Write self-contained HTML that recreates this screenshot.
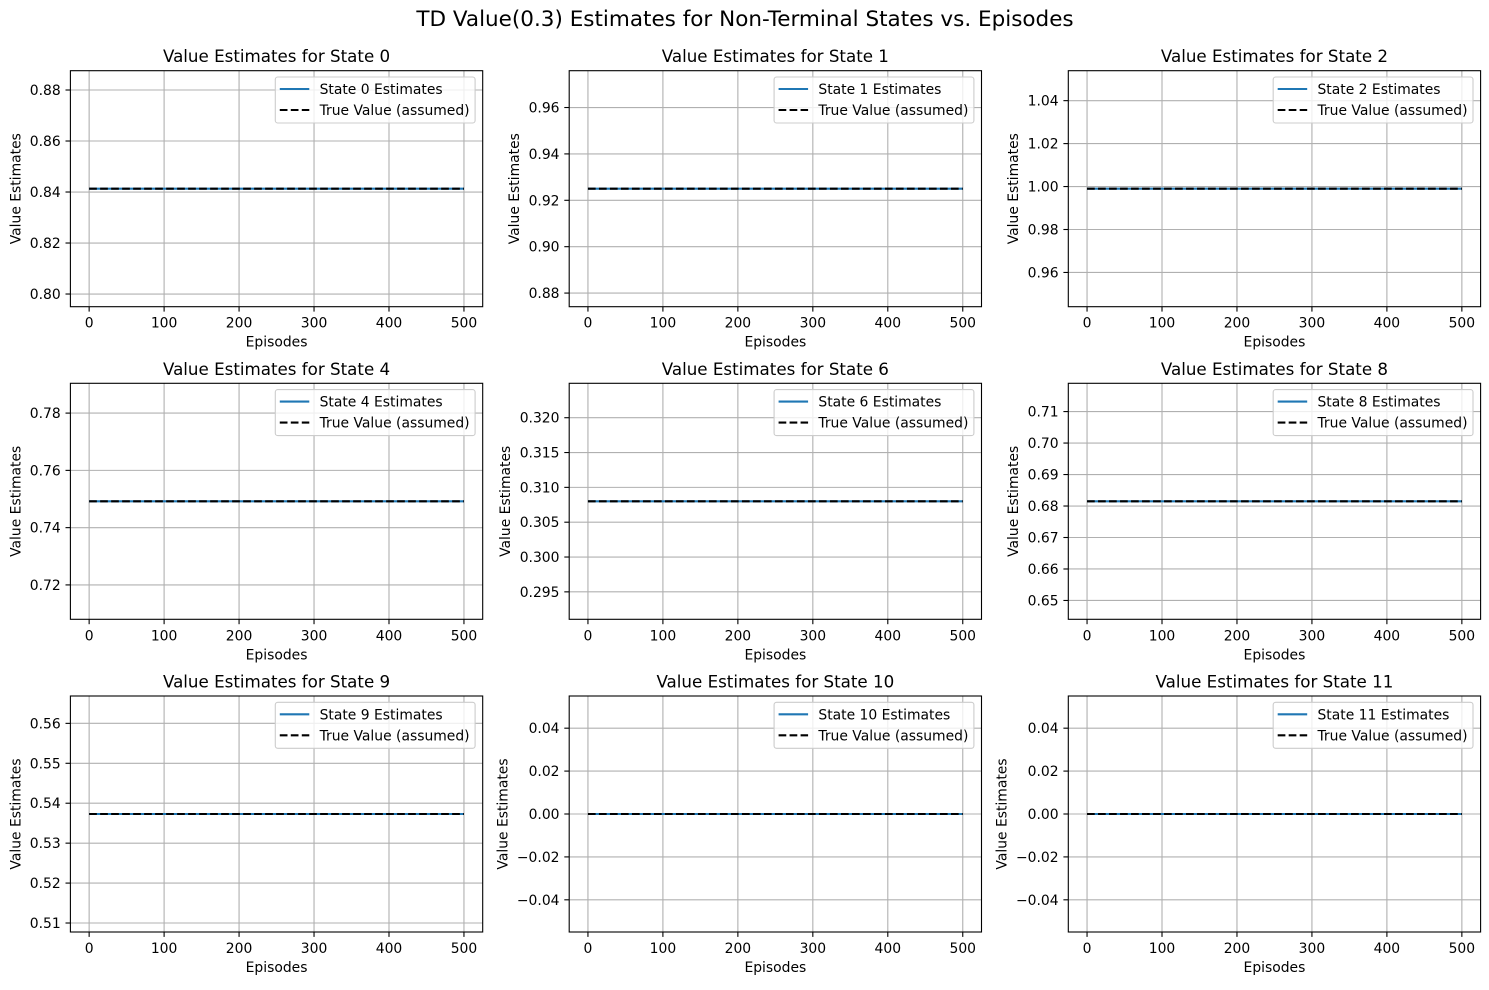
<!DOCTYPE html>
<html><head><meta charset="utf-8"><style>
body{margin:0;background:#fff;}
svg text{font-family:"DejaVu Sans","Liberation Sans",sans-serif;fill:#000;}
</style></head><body>
<svg id="fig" width="1489" height="985" xmlns="http://www.w3.org/2000/svg">
<rect width="1489" height="985" fill="#fff"/>
<text x="745" y="26" font-size="21.5" text-anchor="middle">TD Value(0.3) Estimates for Non-Terminal States vs. Episodes</text>
</svg>
<script>
const states = [0, 1, 2, 4, 6, 8, 9, 10, 11];
const estimateValues = [0.8413, 0.925, 0.999, 0.7492, 0.308, 0.6815, 0.5373, 0.0, 0.0];
const trueValues = [0.8413, 0.925, 0.999, 0.7492, 0.308, 0.6815, 0.5373, 0.0, 0.0];
const episodeStart = 0;
const episodeEnd = 500;
const xTicks = [0, 100, 200, 300, 400, 500];
const yTicks = [
  [0.80, 0.82, 0.84, 0.86, 0.88],
  [0.88, 0.90, 0.92, 0.94, 0.96],
  [0.96, 0.98, 1.00, 1.02, 1.04],
  [0.72, 0.74, 0.76, 0.78],
  [0.295, 0.300, 0.305, 0.310, 0.315, 0.320],
  [0.65, 0.66, 0.67, 0.68, 0.69, 0.70, 0.71],
  [0.51, 0.52, 0.53, 0.54, 0.55, 0.56],
  [-0.04, -0.02, 0.00, 0.02, 0.04],
  [-0.04, -0.02, 0.00, 0.02, 0.04]
];
const yDecimals = [2, 2, 2, 2, 3, 2, 2, 2, 2];

const NS = "http://www.w3.org/2000/svg";
const svg = document.getElementById('fig');
function mk(tag, attrs, parent) {
  const e = document.createElementNS(NS, tag);
  for (const k in attrs) e.setAttribute(k, attrs[k]);
  (parent || svg).appendChild(e);
  return e;
}
const AW = 412.3, AH = 236;
const lefts = [70.4, 569.2, 1068.3];
const tops = [70.7, 383.3, 696];

states.forEach((st, i) => {
  const col = i % 3, row = Math.floor(i / 3);
  const L = lefts[col], T = tops[row], R = L + AW, B = T + AH;
  const g = mk('g', {});
  
  
  const v = estimateValues[i];
  const d = v === 0 ? 0.05 : Math.abs(v) * 0.05;
  const y0 = v - d * 1.1, y1 = v + d * 1.1;
  const xr = (episodeEnd - episodeStart) * 0.05;
  const xs = x => L + (x - (episodeStart - xr)) / (episodeEnd - episodeStart + 2 * xr) * AW;
  const ys = y => B - (y - y0) / (y1 - y0) * AH;

  // grid + ticks
  xTicks.forEach(t => {
    const x = xs(t);
    const gl = mk('line', {x1: x, x2: x, y1: T, y2: B, stroke: '#b0b0b0', 'stroke-width': 1.1}, g);
    
    
    mk('line', {x1: x, x2: x, y1: B, y2: B + 4.9, stroke: '#000', 'stroke-width': 1.1}, g);
    const tx = mk('text', {x: x, y: B + 21, 'font-size': 13.9, 'text-anchor': 'middle'}, g);
    
    
    tx.textContent = String(t);
  });
  let maxW = 0;
  yTicks[i].forEach(t => {
    const y = ys(t);
    const gl = mk('line', {x1: L, x2: R, y1: y, y2: y, stroke: '#b0b0b0', 'stroke-width': 1.1}, g);
    
    
    mk('line', {x1: L - 4.9, x2: L, y1: y, y2: y, stroke: '#000', 'stroke-width': 1.1}, g);
    const tx = mk('text', {x: L - 9.7, y: y + 5, 'font-size': 13.9, 'text-anchor': 'end'}, g);
    
    
    tx.textContent = t.toFixed(yDecimals[i]).replace('-', '\u2212');
    maxW = Math.max(maxW, tx.getComputedTextLength());
  });
  // series
  const est = mk('line', {x1: xs(episodeStart), x2: xs(episodeEnd), y1: ys(v), y2: ys(v), stroke: '#1f77b4', 'stroke-width': 2.1}, g);
  
  
  const tv = mk('line', {x1: xs(episodeStart), x2: xs(episodeEnd), y1: ys(trueValues[i]), y2: ys(trueValues[i]), stroke: '#000', 'stroke-width': 2.1, 'stroke-dasharray': '7.7 3.3'}, g);
  
  
  // frame
  mk('rect', {x: L, y: T, width: AW, height: AH, fill: 'none', stroke: '#000', 'stroke-width': 1.1}, g);
  // title / labels
  const ti = mk('text', {x: L + AW / 2, y: T - 8.5, 'font-size': 16.7, 'text-anchor': 'middle'}, g);
  
  
  ti.textContent = 'Value Estimates for State ' + st;
  const xl = mk('text', {x: L + AW / 2, y: B + 40, 'font-size': 13.9, 'text-anchor': 'middle'}, g);
  
  
  xl.textContent = 'Episodes';
  const lx = L - 9.7 - maxW - 9.5;
  const yl = mk('text', {x: 0, y: 0, 'font-size': 13.9, 'text-anchor': 'middle', transform: 'translate(' + lx + ',' + (T + AH / 2) + ') rotate(-90)'}, g);
  
  
  yl.textContent = 'Value Estimates';
  // legend
  const lg = mk('g', {}, g);
  
  
  const t1 = mk('text', {x: 0, y: 0, 'font-size': 13.9}, lg);
  t1.textContent = 'State ' + st + ' Estimates';
  const t2 = mk('text', {x: 0, y: 0, 'font-size': 13.9}, lg);
  t2.textContent = 'True Value (assumed)';
  const tw = Math.max(t1.getComputedTextLength(), t2.getComputedTextLength());
  const lw = 44.3 + tw + 5.5;
  const lxr = R - 7.6, lxl = lxr - lw, ly = T + 6.3;
  const box = mk('rect', {x: lxl, y: ly, width: lw, height: 46, rx: 2.5, fill: '#fff', 'fill-opacity': 0.8, stroke: '#ccc', 'stroke-width': 1.1}, lg);
  lg.insertBefore(box, t1);
  t1.setAttribute('x', lxl + 44.3); t1.setAttribute('y', ly + 17);
  t2.setAttribute('x', lxl + 44.3); t2.setAttribute('y', ly + 38);
  const h1 = mk('line', {x1: lxl + 4.5, x2: lxl + 34, y1: ly + 12, y2: ly + 12, stroke: '#1f77b4', 'stroke-width': 2.1}, lg);
  
  
  const h2 = mk('line', {x1: lxl + 4.5, x2: lxl + 34, y1: ly + 33, y2: ly + 33, stroke: '#000', 'stroke-width': 2.1, 'stroke-dasharray': '7.7 3.3'}, lg);
  
  
});
</script>
</body></html>
